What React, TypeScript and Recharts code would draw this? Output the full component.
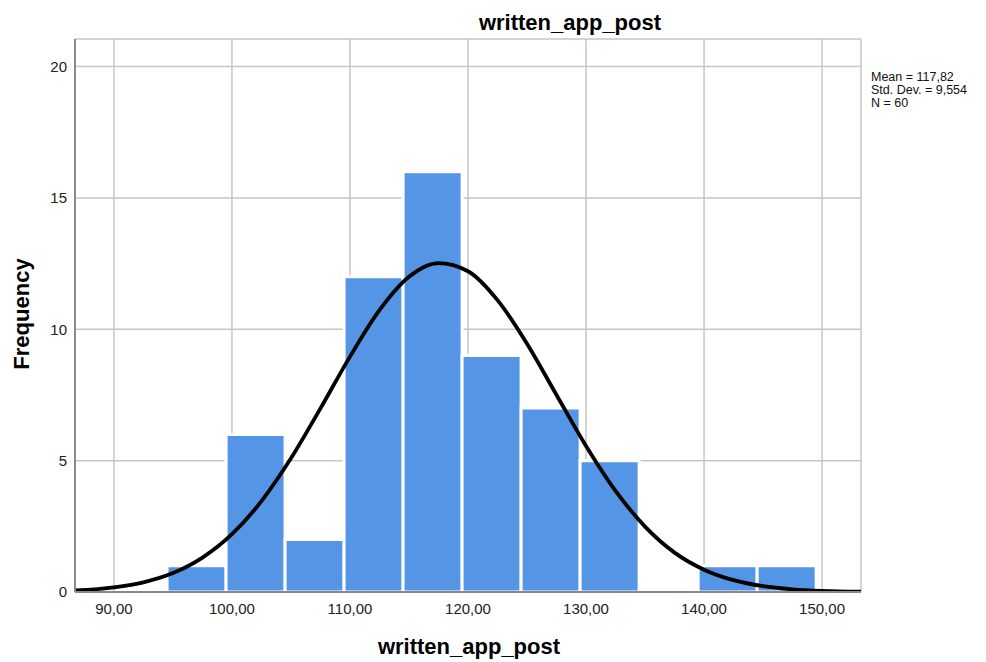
import { ComposedChart, Line, XAxis, YAxis, CartesianGrid, ReferenceArea } from 'recharts'

// histogram bins (lower / upper edge) and counts
const binLow = [94.5, 99.5, 104.5, 109.5, 114.5, 119.5, 124.5, 129.5, 134.5, 139.5, 144.5]
const binHigh = [99.5, 104.5, 109.5, 114.5, 119.5, 124.5, 129.5, 134.5, 139.5, 144.5, 149.5]
const counts = [1, 6, 2, 12, 16, 9, 7, 5, 0, 1, 1]

// fitted normal curve
const curveX = [86.7, 90, 92.5, 95, 97.5, 100, 102.5, 105, 107.5, 110, 112.5, 115, 117.5, 120, 122.5, 125, 127.5, 130, 132.5, 135, 137.5, 140, 142.5, 145, 147.5, 150, 153.3]
const curveY = [0.06, 0.18, 0.37, 0.72, 1.31, 2.2, 3.46, 5.09, 6.99, 8.96, 10.73, 12.0, 12.52, 12.21, 11.11, 9.45, 7.5, 5.56, 3.85, 2.49, 1.5, 0.85, 0.45, 0.22, 0.1, 0.04, 0.01]

const xTicks = [90, 100, 110, 120, 130, 140, 150]
const yTicks = [0, 5, 10, 15, 20]
const stats = ['Mean = 117,82', 'Std. Dev. = 9,554', 'N = 60']

const font = '"Liberation Sans", Arial, sans-serif'

export default function App() {
  const curve = curveX.map((x, i) => ({ x, y: curveY[i] }))

  return (
    <div style={{ position: 'absolute', left: 0, top: 0, width: 986, height: 662, background: '#fff', fontFamily: font }}>
      <ComposedChart width={986} height={662} margin={{ top: 39, right: 125, left: 0, bottom: 0 }} style={{ fontFamily: font }}>
        <CartesianGrid stroke="#c6c6c6" strokeWidth={1.5} />
        <XAxis
          type="number"
          dataKey="x"
          domain={[86.7, 153.3]}
          allowDataOverflow
          ticks={xTicks}
          tickFormatter={(v: number) => v.toFixed(2).replace('.', ',')}
          tick={{ fontSize: 15, fill: '#222' }}
          tickLine={false}
          tickMargin={5}
          height={70}
          axisLine={{ stroke: '#8a8a8a', strokeWidth: 2 }}
        />
        <YAxis
          type="number"
          domain={[0, 21.05]}
          allowDataOverflow
          ticks={yTicks}
          tick={{ fontSize: 15, fill: '#222' }}
          tickLine={false}
          width={75}
          axisLine={{ stroke: '#8a8a8a', strokeWidth: 2 }}
        />
        {counts.map((c, i) =>
          c > 0 ? (
            <ReferenceArea
              key={i}
              x1={binLow[i]}
              x2={binHigh[i]}
              y1={0}
              y2={c}
              fill="#5595e5"
              fillOpacity={1}
              stroke="#ffffff"
              strokeWidth={3}
              ifOverflow="visible"
            />
          ) : null
        )}
        <Line
          data={curve}
          dataKey="y"
          type="monotone"
          stroke="#000"
          strokeWidth={3.8}
          dot={false}
          activeDot={false}
          isAnimationActive={false}
        />
      </ComposedChart>
      <svg width={986} height={662} style={{ position: 'absolute', left: 0, top: 0, pointerEvents: 'none' }}>
        <text x={570} y={30} textAnchor="middle" fontSize={22} fontWeight="bold" fontFamily={font} fill="#000">
          written_app_post
        </text>
        <text x={469} y={654} textAnchor="middle" fontSize={22} fontWeight="bold" fontFamily={font} fill="#000">
          written_app_post
        </text>
        <text x={29} y={314} transform="rotate(-90 29 314)" textAnchor="middle" fontSize={22} fontWeight="bold" fontFamily={font} fill="#000">
          Frequency
        </text>
        {stats.map((s, i) => (
          <text key={s} x={871} y={81 + i * 13} fontSize={12.5} fontFamily={font} fill="#111">
            {s}
          </text>
        ))}
      </svg>
    </div>
  )
}
